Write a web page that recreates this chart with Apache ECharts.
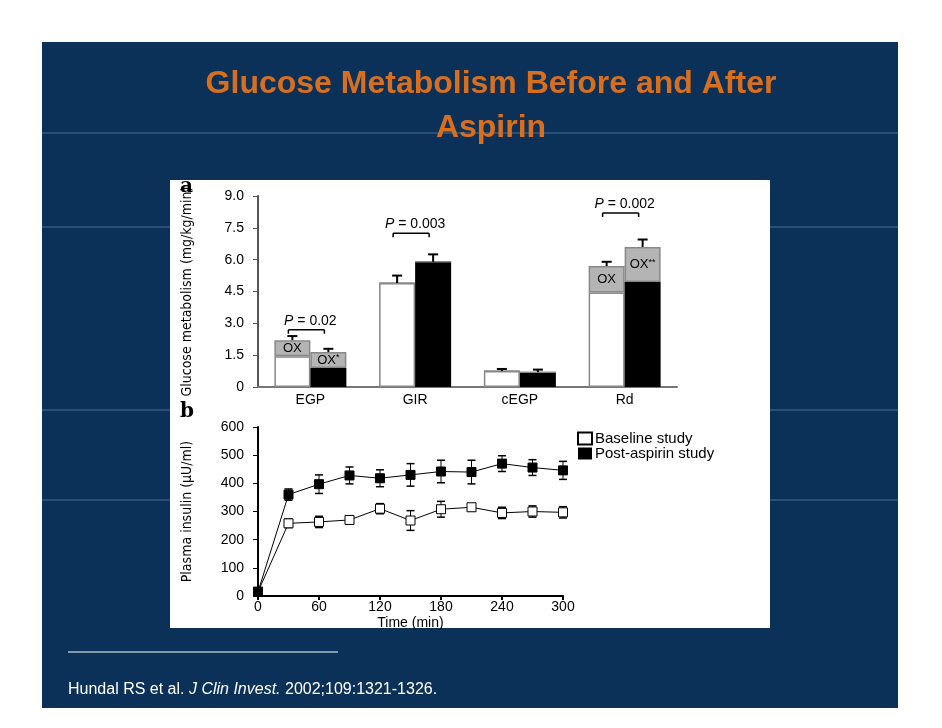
<!DOCTYPE html>
<html>
<head>
<meta charset="utf-8">
<script src="https://cdn.jsdelivr.net/npm/echarts@6/dist/echarts.min.js"></script>
<style>html,body{margin:0;padding:0;background:#fff}#main{width:942px;height:728px}</style>
</head>
<body>
<div id="main"></div>
<script>
// panel a data
var cats = ['EGP', 'GIR', 'cEGP', 'Rd'];
var baseNonOx = [1.45, 4.9, 0.75, 4.45];   // baseline study (white)
var baseOx = [0.75, 0, 0, 1.25];           // OX part (gray)
var baseErr = [2.4, 5.25, 0.85, 5.9];
var postNonOx = [0.9, 5.9, 0.7, 4.95];     // post-aspirin (black)
var postOx = [0.75, 0, 0, 1.65];
var postErr = [1.8, 6.25, 0.82, 6.95];
var pBrackets = [[0, 2.7, '0.02'], [1, 7.25, '0.003'], [3, 8.2, '0.002']];
var oxLabels = [['OX', '', '', 'OX'], ['OX{s|*}', '', '', 'OX{s|**}']];

// panel b data
var times = [0, 30, 60, 90, 120, 150, 180, 210, 240, 270, 300];
var baseline = [15, 258, 263, 270, 310, 268, 308, 315, 295, 300, 297];
var baselineErr = [0, 15, 20, 15, 18, 35, 28, 12, 20, 20, 20];
var post = [15, 360, 397, 428, 418, 430, 442, 440, 470, 456, 446];
var postErrB = [0, 20, 33, 30, 30, 40, 40, 42, 28, 28, 32];

var font = 'Liberation Sans, Arial, sans-serif';
var narrow = 'Liberation Sans Narrow, DejaVu Sans Condensed, sans-serif';
var chart = echarts.init(document.getElementById('main'));

function barErr(offset, a, b, errs) {
    return {
        type: 'custom', xAxisIndex: 0, yAxisIndex: 0, z: 5,
        data: errs.map(function (e, i) { return [i, a[i] + b[i], e]; }),
        renderItem: function (params, api) {
            var top = api.coord([api.value(0), api.value(1)]);
            var c = api.coord([api.value(0), api.value(2)]);
            var x = c[0] + offset;
            return { type: 'group', children: [
                { type: 'line', shape: { x1: x, y1: c[1], x2: x, y2: top[1] }, style: { stroke: '#000', lineWidth: 2 } },
                { type: 'line', shape: { x1: x - 5, y1: c[1], x2: x + 5, y2: c[1] }, style: { stroke: '#000', lineWidth: 2 } }
            ]};
        }
    };
}

function lineErr(vals, errs) {
    return {
        type: 'custom', xAxisIndex: 1, yAxisIndex: 1, z: 2,
        data: vals.map(function (v, i) { return [times[i], v, errs[i]]; }),
        renderItem: function (params, api) {
            var t = api.value(0), v = api.value(1), e = api.value(2);
            if (!e) return null;
            var hi = api.coord([t, v + e]), lo = api.coord([t, v - e]);
            return { type: 'group', children: [
                { type: 'line', shape: { x1: hi[0], y1: hi[1], x2: lo[0], y2: lo[1] }, style: { stroke: '#000', lineWidth: 1 } },
                { type: 'line', shape: { x1: hi[0] - 4, y1: hi[1], x2: hi[0] + 4, y2: hi[1] }, style: { stroke: '#000', lineWidth: 1.5 } },
                { type: 'line', shape: { x1: lo[0] - 4, y1: lo[1], x2: lo[0] + 4, y2: lo[1] }, style: { stroke: '#000', lineWidth: 1.5 } }
            ]};
        }
    };
}

var hlines = [133, 227, 410, 500].map(function (y) {
    return { type: 'line', z: -9, shape: { x1: 42, y1: y, x2: 898, y2: y }, style: { stroke: '#4d6f96', lineWidth: 1 } };
});

var option = {
    backgroundColor: '#fff',
    animation: false,
    textStyle: { fontFamily: font },
    graphic: [
        { type: 'rect', z: -10, shape: { x: 42, y: 42, width: 856, height: 666 }, style: { fill: '#0c3159' } }
    ].concat(hlines).concat([
        { type: 'text', z: 1, x: 491, y: 62, style: { text: 'Glucose Metabolism Before and After\nAspirin', fill: '#d86f1f', font: 'bold 32px ' + font, textAlign: 'center', lineHeight: 44 } },
        { type: 'rect', z: -5, shape: { x: 170, y: 180, width: 600, height: 448 }, style: { fill: '#fff' } },
        { type: 'text', left: 180, top: 177, style: { text: 'a', font: 'bold 20px DejaVu Serif, serif', fill: '#000' } },
        { type: 'text', left: 180, top: 402, style: { text: 'b', font: 'bold 20px DejaVu Serif, serif', fill: '#000' } },
        { type: 'line', shape: { x1: 68, y1: 652, x2: 338, y2: 652 }, style: { stroke: '#fff', lineWidth: 1 } },
        { type: 'text', left: 68, top: 682, style: { rich: { n: { fill: '#fff', fontSize: 16, fontFamily: font }, i: { fill: '#fff', fontSize: 16, fontStyle: 'italic', fontFamily: font } }, text: '{n|Hundal RS et al. }{i|J Clin Invest.}{n| 2002;109:1321-1326.}' } }
    ]),
    legend: {
        data: ['Baseline study', 'Post-aspirin study'],
        orient: 'vertical', left: 572, top: 426, itemGap: 0, itemWidth: 14, itemHeight: 12,
        textStyle: { fontSize: 15, color: '#000', fontFamily: font, padding: [0, 0, 0, -2] },
        icon: 'rect'
    },
    grid: [
        { left: 258, top: 196, width: 419, height: 191 },
        { left: 258, top: 427, width: 305, height: 169 }
    ],
    xAxis: [
        { type: 'category', gridIndex: 0, data: cats, axisTick: { show: false },
          axisLine: { lineStyle: { color: '#777', width: 2 } },
          axisLabel: { color: '#000', fontSize: 14, margin: 6 } },
        { type: 'value', gridIndex: 1, min: 0, max: 300, interval: 60, name: 'Time (min)', nameLocation: 'middle', nameGap: 20,
          nameTextStyle: { color: '#000', fontSize: 14 },
          axisLine: { lineStyle: { color: '#000', width: 2 } }, axisTick: { lineStyle: { color: '#000', width: 2 }, length: 4 },
          splitLine: { show: false }, axisLabel: { color: '#000', fontSize: 14, margin: 4 } }
    ],
    yAxis: [
        { type: 'value', gridIndex: 0, min: 0, max: 9, interval: 1.5, name: 'Glucose metabolism (mg/kg/min)',
          nameLocation: 'middle', nameGap: 64, nameTextStyle: { color: '#000', fontSize: 14, fontFamily: narrow },
          axisLine: { show: true, lineStyle: { color: '#555', width: 2 } }, axisTick: { show: true, lineStyle: { color: '#555' }, length: 5 },
          splitLine: { show: false },
          axisLabel: { color: '#000', fontSize: 14, margin: 14, formatter: function (v) { return v === 0 ? '0' : v.toFixed(1); } } },
        { type: 'value', gridIndex: 1, min: 0, max: 600, interval: 100, name: 'Plasma insulin (\u03bcU/ml)',
          nameLocation: 'middle', nameGap: 64, nameTextStyle: { color: '#000', fontSize: 14, fontFamily: narrow },
          axisLine: { show: true, lineStyle: { color: '#000', width: 2 } }, axisTick: { show: true, lineStyle: { color: '#000' }, length: 5 },
          splitLine: { show: false }, axisLabel: { color: '#000', fontSize: 14, margin: 14 } }
    ],
    series: [
        { type: 'bar', name: 'bA', stack: 'b', barWidth: 36, barGap: '0%', data: baseNonOx,
          itemStyle: { color: '#fff', borderColor: '#888', borderWidth: 1.5 } },
        { type: 'bar', name: 'bOx', stack: 'b', barWidth: 36, data: baseOx.map(function (v, i) {
              return { value: v, label: { show: !!oxLabels[0][i], formatter: oxLabels[0][i] } }; }),
          itemStyle: { color: '#b4b4b4', borderColor: '#888', borderWidth: 1.5 },
          label: { position: 'inside', color: '#000', fontSize: 13 } },
        { type: 'bar', name: 'pA', stack: 'p', barWidth: 36, barGap: '0%', data: postNonOx,
          itemStyle: { color: '#000' } },
        { type: 'bar', name: 'pOx', stack: 'p', barWidth: 36, data: postOx.map(function (v, i) {
              return { value: v, label: { show: !!oxLabels[1][i], formatter: oxLabels[1][i] } }; }),
          itemStyle: { color: '#b4b4b4', borderColor: '#888', borderWidth: 1.5 },
          label: { position: 'inside', color: '#000', fontSize: 13, rich: { s: { fontSize: 9, verticalAlign: 'top', color: '#000' } } } },
        barErr(-18, baseNonOx, baseOx, baseErr),
        barErr(18, postNonOx, postOx, postErr),
        { type: 'custom', xAxisIndex: 0, yAxisIndex: 0, z: 6, data: pBrackets,
          renderItem: function (params, api) {
              var c = api.coord([api.value(0), api.value(1)]);
              var x1 = c[0] - 22, x2 = c[0] + 14;
              return { type: 'group', children: [
                  { type: 'line', shape: { x1: x1, y1: c[1], x2: x2, y2: c[1] }, style: { stroke: '#000', lineWidth: 1.5 } },
                  { type: 'line', shape: { x1: x1, y1: c[1], x2: x1, y2: c[1] + 4 }, style: { stroke: '#000', lineWidth: 1.5 } },
                  { type: 'line', shape: { x1: x2, y1: c[1], x2: x2, y2: c[1] + 4 }, style: { stroke: '#000', lineWidth: 1.5 } },
                  { type: 'text', style: { x: c[0], y: c[1] - 2, text: '{i|P} = ' + pBrackets[params.dataIndex][2], textAlign: 'center', textVerticalAlign: 'bottom',
                      rich: { i: { fontStyle: 'italic', fontSize: 14, fontFamily: font } }, fontSize: 14, fontFamily: font, fill: '#000' } }
              ]};
          } },
        lineErr(baseline, baselineErr),
        lineErr(post, postErrB),
        { type: 'line', name: 'Baseline study', xAxisIndex: 1, yAxisIndex: 1, z: 4,
          data: times.map(function (t, i) { return [t, baseline[i]]; }),
          symbol: 'rect', symbolSize: 9, lineStyle: { color: '#000', width: 1 },
          itemStyle: { color: '#fff', borderColor: '#000', borderWidth: 1 } },
        { type: 'line', name: 'Post-aspirin study', xAxisIndex: 1, yAxisIndex: 1, z: 4,
          data: times.map(function (t, i) { return [t, post[i]]; }),
          symbol: 'rect', symbolSize: 9, lineStyle: { color: '#000', width: 1 },
          itemStyle: { color: '#000', borderColor: '#000' } }
    ]
};
chart.setOption(option);
</script>
</body>
</html>
